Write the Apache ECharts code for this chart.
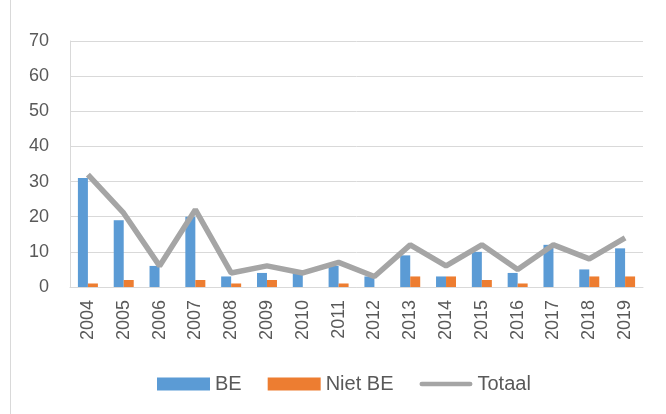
<!DOCTYPE html>
<html>
<head>
<meta charset="utf-8">
<script src="https://cdn.jsdelivr.net/npm/echarts@6/dist/echarts.min.js"></script>
<style>
  html, body { margin: 0; padding: 0; background: #fff; }
  #main { width: 666px; height: 414px; }
</style>
</head>
<body>
<div id="main"></div>
<script>
var years = ['2004','2005','2006','2007','2008','2009','2010','2011','2012','2013','2014','2015','2016','2017','2018','2019'];
var be = [31, 19, 6, 20, 3, 4, 4, 6, 3, 9, 3, 10, 4, 12, 5, 11];
var nietBe = [1, 2, 0, 2, 1, 2, 0, 1, 0, 3, 3, 2, 1, 0, 3, 3];
var totaal = [32, 21, 6, 22, 4, 6, 4, 7, 3, 12, 6, 12, 5, 12, 8, 14];

var txt = '#595959';
var font = 'Liberation Sans';

var chart = echarts.init(document.getElementById('main'));
chart.setOption({
    animation: false,
    textStyle: { fontFamily: font },
    graphic: [{
        type: 'line',
        shape: { x1: 10.5, y1: 0, x2: 10.5, y2: 414 },
        style: { stroke: '#d9d9d9', lineWidth: 1 }
    }],
    legend: {
        bottom: 20,
        left: 157,
        padding: 0,
        itemGap: 26,
        itemWidth: 53,
        itemHeight: 13,
        textStyle: { color: txt, fontSize: 20, fontFamily: font },
        data: [
            { name: 'BE', icon: 'rect' },
            { name: 'Niet BE', icon: 'rect' },
            { name: 'Totaal', icon: 'path://M2.5,0 L53.5,0 A2.5,2.5 0 0 1 53.5,5 L2.5,5 A2.5,2.5 0 0 1 2.5,0 Z' }
        ]
    },
    grid: { left: 70, right: 23, top: 41, bottom: 127 },
    xAxis: {
        type: 'category',
        data: years,
        axisLine: { lineStyle: { color: '#d9d9d9', width: 1 } },
        axisTick: { show: false },
        axisLabel: { rotate: 90, color: txt, fontSize: 18, margin: 13 }
    },
    yAxis: {
        type: 'value',
        min: 0,
        max: 70,
        interval: 10,
        axisLine: { show: true, lineStyle: { color: '#d9d9d9' } },
        axisTick: { show: false },
        splitLine: { lineStyle: { color: '#d9d9d9', width: 1 } },
        axisLabel: { color: txt, fontSize: 18, margin: 21 }
    },
    series: [
        {
            name: 'BE',
            type: 'bar',
            data: be,
            barWidth: 10,
            barGap: '0%',
            itemStyle: { color: '#5b9bd5' }
        },
        {
            name: 'Niet BE',
            type: 'bar',
            data: nietBe,
            barWidth: 10,
            itemStyle: { color: '#ed7d31' }
        },
        {
            name: 'Totaal',
            type: 'line',
            data: totaal,
            symbol: 'none',
            lineStyle: { color: '#a5a5a5', width: 5.5 },
            itemStyle: { color: '#a5a5a5' }
        }
    ]
});
</script>
</body>
</html>
